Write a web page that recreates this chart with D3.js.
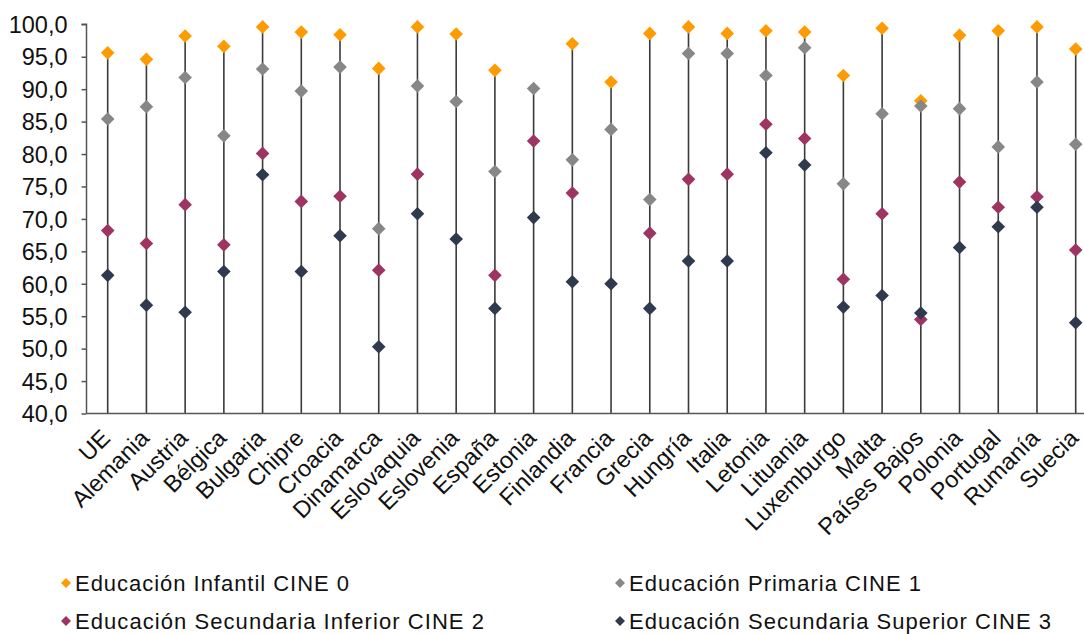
<!DOCTYPE html>
<html>
<head>
<meta charset="utf-8">
<script src="https://cdn.jsdelivr.net/npm/d3@7"></script>
<style>
  html, body { margin: 0; padding: 0; background: #fff; }
  svg { display: block; font-family: "Liberation Sans", Arial, sans-serif; }
</style>
</head>
<body>
<svg id="chart" width="1084" height="634"></svg>
<script>
const categories = ["UE","Alemania","Austria","Bélgica","Bulgaria","Chipre","Croacia","Dinamarca","Eslovaquia","Eslovenia","España","Estonia","Finlandia","Francia","Grecia","Hungría","Italia","Letonia","Lituania","Luxemburgo","Malta","Países Bajos","Polonia","Portugal","Rumanía","Suecia"];
const infantil = [95.6,94.6,98.2,96.6,99.6,98.8,98.4,93.2,99.6,98.5,92.9,null,97.0,91.1,98.6,99.6,98.6,99.0,98.8,92.1,99.4,88.2,98.3,99.0,99.6,96.2];
const primaria = [85.4,87.3,91.8,82.8,93.1,89.7,93.4,68.5,90.5,88.1,77.3,90.1,79.1,83.8,73.0,95.5,95.5,92.1,96.4,75.4,86.2,87.4,87.0,81.1,91.1,81.5];
const secInferior = [68.2,66.2,72.2,66.0,80.1,72.7,73.5,62.1,76.9,null,61.3,82.0,74.0,null,67.8,76.1,76.9,84.6,82.4,60.7,70.8,54.5,75.7,71.8,73.4,65.2];
const secSuperior = [61.3,56.7,55.6,61.9,76.8,61.9,67.4,50.3,70.8,66.9,56.2,70.2,60.3,60.0,56.2,63.5,63.5,80.2,78.3,56.4,58.2,55.5,65.6,68.8,71.8,54.0];
const seriesNames = ["Educación Infantil CINE 0","Educación Primaria CINE 1","Educación Secundaria Inferior CINE 2","Educación Secundaria Superior CINE 3"];
const yTicks = [40,45,50,55,60,65,70,75,80,85,90,95,100];

const colors = ["#fd9b00","#878787","#9e3462","#2f3a4e"];
const seriesData = [infantil, primaria, secInferior, secSuperior];

const svg = d3.select("#chart");
const yAxisX = 86.5;
const x = d3.scalePoint().domain(categories).range([107.7, 1075.7]);
const y = d3.scaleLinear().domain([40, 100]).range([413.5, 24.3]);

const diamondPath = r => `M0,${-r}L${r},0L0,${r}L${-r},0Z`;

// stems
const tops = categories.map((c, i) => d3.max(seriesData, s => s[i]));
svg.append("g").selectAll("line").data(categories).join("line")
  .attr("x1", d => x(d)).attr("x2", d => x(d))
  .attr("y1", y(40)).attr("y2", (d, i) => y(tops[i]))
  .attr("stroke", "#3a3a3a").attr("stroke-width", 1.6);

// axes
const yAxis = d3.axisLeft(y).tickValues(yTicks)
  .tickFormat(d => d.toFixed(1).replace(".", ","))
  .tickSize(5).tickPadding(14);
const gy = svg.append("g").attr("transform", `translate(${yAxisX},0)`).call(yAxis);
gy.select(".domain").attr("stroke", "#555").attr("stroke-width", 1.5).attr("d", `M-5,${y(100)}H0V${y(40)}`);
gy.selectAll(".tick line").attr("stroke", "#555").attr("stroke-width", 1.5);
gy.selectAll(".tick text").attr("fill", "#111").style("font-size", "23.5px").attr("dy", "0.35em");

svg.append("line").attr("x1", yAxisX).attr("x2", 1084).attr("y1", y(40)).attr("y2", y(40))
  .attr("stroke", "#555").attr("stroke-width", 1.5);

// x labels
svg.append("g").selectAll("text").data(categories).join("text")
  .attr("transform", d => `translate(${x(d) + 4},${y(40) + 26}) rotate(-45)`)
  .attr("text-anchor", "end")
  .attr("fill", "#111").style("font-size", "23.5px")
  .text(d => d);

// markers
seriesData.forEach((s, k) => {
  svg.append("g").selectAll("path").data(categories.map((c, i) => ({c, v: s[i]})).filter(d => d.v != null))
    .join("path")
    .attr("d", diamondPath(6.8))
    .attr("transform", d => `translate(${x(d.c)},${y(d.v)})`)
    .attr("fill", colors[k]);
});

// legend
const legendPos = [[66, 583], [620, 583], [66, 621], [620, 621]];
const legendLen = [274, 292, 409, 422];
const lg = svg.append("g");
seriesNames.forEach((n, k) => {
  const [lx, ly] = legendPos[k];
  lg.append("path").attr("d", diamondPath(5)).attr("transform", `translate(${lx},${ly})`).attr("fill", colors[k]);
  lg.append("text").attr("x", lx + 9).attr("y", ly).attr("dy", "0.36em")
    .attr("fill", "#111").style("font-size", "22px")
    .attr("textLength", legendLen[k]).attr("lengthAdjust", "spacing")
    .text(n);
});
</script>
</body>
</html>
